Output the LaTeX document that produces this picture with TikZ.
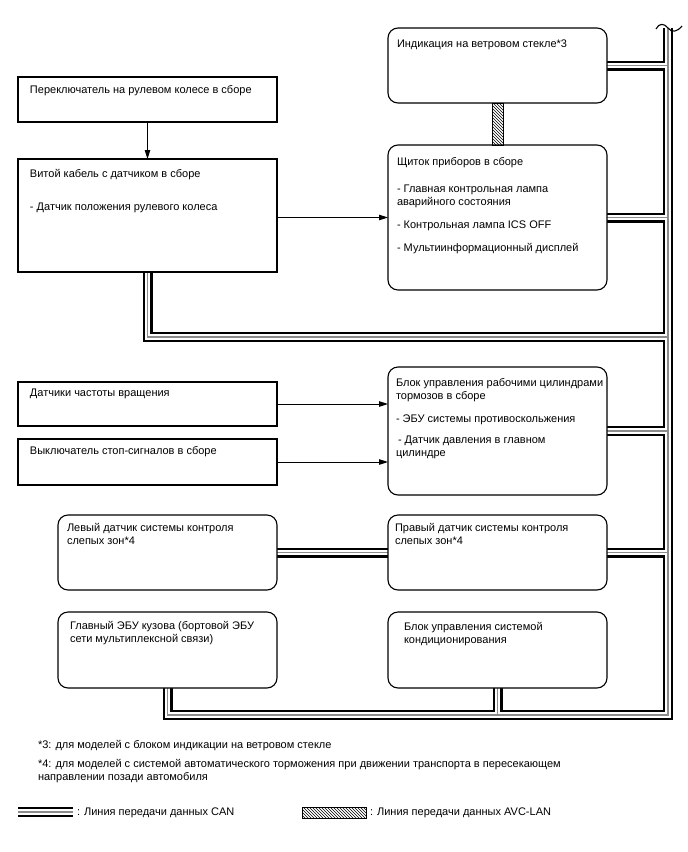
\documentclass[tikz,border=0pt]{standalone}
\usepackage{fontspec}
\setmainfont{Liberation Sans}
\usetikzlibrary{arrows.meta,patterns,backgrounds}
\newcommand\mkbox[6]{\node[#1, anchor=north west, minimum width={(#4-#2)*1pt}, minimum height={(#5-#3)*1pt}] (#6) at (#2,#3) {};}
\newcommand\canroutes[1]{%
 \draw[#1] (bt) -- (bb) -- (bl) -- (b10.south);
 \draw[#1] (b1.east) -- (b1.east -| bt);
 \draw[#1] (b2.east) -- (b2.east -| bt);
 \draw[#1] (b4.south) -- (k4) -- (k4 -| bt);
 \draw[#1] (b5.east) -- (b5.east -| bt);
 \draw[#1] (b8.east) -- (b9.west);
 \draw[#1] (b9.east) -- (b9.east -| bt);
 \draw[#1] (b11.south) -- (b11.south |- bb);
}
\begin{document}
\begin{tikzpicture}[x=1pt,y=-1pt,
  every node/.style={outer sep=0pt},
  rbox/.style={draw, line width=1.1pt, rounded corners=10pt, fill=white, inner sep=0pt},
  sbox/.style={draw, line width=1.1pt, fill=white, inner sep=0pt},
  txt/.style={anchor=north west, inner sep=0pt, align=left, font=\fontsize{11}{13}\selectfont},
  arr/.style={line width=0.9pt, -{Triangle[length=9pt,width=5.5pt]}},
  canblack/.style={line width=10pt, black},
  canwhite/.style={line width=5.6pt, white},
  cangray/.style={line width=1.1pt, black!45},
]
\useasboundingbox (0,0) rectangle (688,852);

\mkbox{rbox}{388}{28}{607}{103}{b1}
\mkbox{rbox}{388}{145}{607}{290}{b2}
\mkbox{sbox}{18}{77}{277}{122}{b3}
\mkbox{sbox}{18}{159}{277}{272}{b4}
\mkbox{rbox}{388}{367}{607}{495}{b5}
\mkbox{sbox}{18}{382}{277}{426}{b6}
\mkbox{sbox}{18}{439}{277}{485}{b7}
\mkbox{rbox}{58}{515}{277}{590}{b8}
\mkbox{rbox}{388}{515}{607}{590}{b9}
\mkbox{rbox}{58}{612}{277}{688}{b10}
\mkbox{rbox}{388}{612}{607}{688}{b11}

\node[txt] (t1) at ([shift={(9,10.4)}]b1.north west) {\strut Индикация на ветровом стекле*3};
\node[txt] (t2) at ([shift={(9,11.4)}]b2.north west) {\strut Щиток приборов в сборе\\[14pt]
- Главная контрольная лампа\\
аварийного состояния\\[10pt]
- Контрольная лампа ICS OFF\\[10pt]
- Мультиинформационный дисплей};
\node[txt] (t3) at ([shift={(12,7.4)}]b3.north west) {\strut Переключатель на рулевом колесе в сборе};
\node[txt] (t4) at ([shift={(12,9.4)}]b4.north west) {\strut Витой кабель с датчиком в сборе\\[20pt]
- Датчик положения рулевого колеса};
\node[txt] (t5) at ([shift={(8,10.4)}]b5.north west) {\strut Блок управления рабочими цилиндрами\\
тормозов в сборе\\[10pt]
- ЭБУ системы противоскольжения\\[8pt]
\hspace*{2pt}- Датчик давления в главном\\
цилиндре};
\node[txt] (t6) at ([shift={(12,5.4)}]b6.north west) {\strut Датчики частоты вращения};
\node[txt] (t7) at ([shift={(12,6.4)}]b7.north west) {\strut Выключатель стоп-сигналов в сборе};
\node[txt] (t8) at ([shift={(9,7.4)}]b8.north west) {\strut Левый датчик системы контроля\\
слепых зон*4};
\node[txt] (t9) at ([shift={(7,7.4)}]b9.north west) {\strut Правый датчик системы контроля\\
слепых зон*4};
\node[txt] (t10) at ([shift={(12,8.4)}]b10.north west) {\strut Главный ЭБУ кузова (бортовой ЭБУ\\
сети мультиплексной связи)};
\node[txt] (t11) at ([shift={(16,9.4)}]b11.north west) {\strut Блок управления системой\\
кондиционирования};

\coordinate (bt) at (668,28);
\coordinate (bb) at (668,715);
\coordinate (bl) at (b10.south |- bb);
\coordinate (y337) at (0,337);
\coordinate (k4) at (b4.south |- y337);

\begin{scope}[on background layer]
\canroutes{canblack}
\canroutes{canwhite}
\canroutes{cangray}
\end{scope}

\draw[line width=1.1pt] (656,29) .. controls (659,23) and (664,23) .. (668,28) .. controls (672,33) and (677,32) .. (682,26);

\draw[line width=0.8pt, pattern=north west lines] ([xshift=-5.5pt]b1.south) rectangle ([xshift=5.5pt]b2.north);

\draw[arr] (b3.south) -- (b4.north);
\draw[arr] (b4.east |- b2.west) -- (b2.west);
\draw[arr] (b6.east) -- (b6.east -| b5.west);
\draw[arr] (b7.east) -- (b7.east -| b5.west);

\node[txt] (f3) at (38,739.4) {\strut *3: для моделей с блоком индикации на ветровом стекле};
\node[txt] (f4) at (38,758.4) {\strut *4: для моделей с системой автоматического торможения при движении транспорта в пересекающем\\
направлении позади автомобиля};

\coordinate (l1) at (18,812);
\coordinate (l2) at (73,812);
\draw[canblack] (l1) -- (l2);
\draw[canwhite] (l1) -- (l2);
\draw[cangray] (l1) -- (l2);
\node[txt] (lt1) at (77,806.4) {\strut : Линия передачи данных CAN};
\coordinate (a1) at (302,807);
\coordinate (a2) at (366,818);
\draw[line width=0.8pt, pattern=north west lines] (a1) rectangle (a2);
\node[txt] (lt2) at (370,806.4) {\strut : Линия передачи данных AVC-LAN};
\end{tikzpicture}
\end{document}
